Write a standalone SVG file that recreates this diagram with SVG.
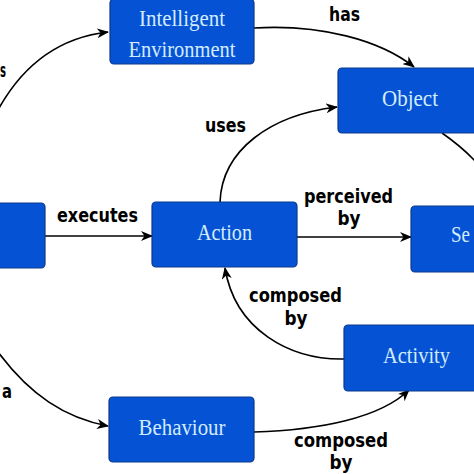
<svg xmlns="http://www.w3.org/2000/svg" width="474" height="474" viewBox="0 0 474 474">
<defs>
<style>
.box{fill:#0652d4;stroke:#0b3a8c;stroke-width:1.2}
.bt{font-family:"Liberation Serif","Times New Roman",serif;font-size:23px;fill:#d2ecff;text-anchor:middle}
.lb{font-family:"DejaVu Sans","Liberation Sans",sans-serif;font-size:19px;font-weight:bold;fill:#000;text-anchor:middle}
.ed{fill:none;stroke:#000;stroke-width:1.6}
</style>
<marker id="ah" viewBox="0 0 12 10" refX="11" refY="5" markerWidth="12" markerHeight="10" markerUnits="userSpaceOnUse" orient="auto">
<path d="M0,0 L12,5 L0,10 L3.5,5 z" fill="#000"/>
</marker>
</defs>
<rect width="474" height="474" fill="#fff"/>
<g id="connectors">
<path class="ed" d="M -2,110 C 20,70 55,38 108,32" marker-end="url(#ah)"/>
<path class="ed" d="M 254,28 C 320,24 380,40 414,67" marker-end="url(#ah)"/>
<path class="ed" d="M 220,202 C 222,150 270,115 337,107" marker-end="url(#ah)"/>
<path class="ed" d="M 442,133 C 455,142 465,150 478,164"/>
<path class="ed" d="M 45,236 L 152,236" marker-end="url(#ah)"/>
<path class="ed" d="M 297,237 L 411,237" marker-end="url(#ah)"/>
<path class="ed" d="M 344,359 C 290,360 235,330 225,268" marker-end="url(#ah)"/>
<path class="ed" d="M -2,352 C 30,395 65,418 108,426" marker-end="url(#ah)"/>
<path class="ed" d="M 254,432 C 320,430 380,418 409,390" marker-end="url(#ah)"/>
<text class="lb" x="344.5" y="21" textLength="31" lengthAdjust="spacingAndGlyphs">has</text>
<text class="lb" x="225.5" y="132" textLength="41" lengthAdjust="spacingAndGlyphs">uses</text>
<text class="lb" x="97.5" y="222" textLength="81" lengthAdjust="spacingAndGlyphs">executes</text>
<text class="lb" x="348.5" y="203" textLength="89" lengthAdjust="spacingAndGlyphs">perceived</text>
<text class="lb" x="349" y="225" textLength="23" lengthAdjust="spacingAndGlyphs">by</text>
<text class="lb" x="295.5" y="302" textLength="93" lengthAdjust="spacingAndGlyphs">composed</text>
<text class="lb" x="296" y="325" textLength="23" lengthAdjust="spacingAndGlyphs">by</text>
<text class="lb" x="341" y="447" textLength="94" lengthAdjust="spacingAndGlyphs">composed</text>
<text class="lb" x="341" y="469" textLength="23" lengthAdjust="spacingAndGlyphs">by</text>
<text class="lb" x="0" y="77" style="text-anchor:start" textLength="6" lengthAdjust="spacingAndGlyphs">s</text>
<text class="lb" x="2" y="398" style="text-anchor:start" textLength="10" lengthAdjust="spacingAndGlyphs">a</text>
</g>
<g id="node-left"><rect class="box" x="-100" y="203" width="145" height="65" rx="4"/></g>
<g id="node-environment"><rect class="box" x="110" y="-1" width="144" height="65" rx="4"/>
<text class="bt" x="182" y="26" textLength="86" lengthAdjust="spacingAndGlyphs">Intelligent</text><text class="bt" x="182" y="57" textLength="107" lengthAdjust="spacingAndGlyphs">Environment</text></g>
<g id="node-object"><rect class="box" x="338" y="68" width="145" height="65" rx="4"/>
<text class="bt" x="410" y="106" textLength="56" lengthAdjust="spacingAndGlyphs">Object</text></g>
<g id="node-action"><rect class="box" x="152" y="202" width="145" height="65" rx="4"/>
<text class="bt" x="224.5" y="240" textLength="55" lengthAdjust="spacingAndGlyphs">Action</text></g>
<g id="node-sensor"><rect class="box" x="411" y="206" width="145" height="66" rx="4"/>
<text class="bt" x="451" y="242" style="text-anchor:start" textLength="19" lengthAdjust="spacingAndGlyphs">Se</text></g>
<g id="node-activity"><rect class="box" x="344" y="325" width="145" height="66" rx="4"/>
<text class="bt" x="416.5" y="363" textLength="67" lengthAdjust="spacingAndGlyphs">Activity</text></g>
<g id="node-behaviour"><rect class="box" x="109" y="397" width="145" height="65" rx="4"/>
<text class="bt" x="182" y="435" textLength="87" lengthAdjust="spacingAndGlyphs">Behaviour</text></g>
</svg>
